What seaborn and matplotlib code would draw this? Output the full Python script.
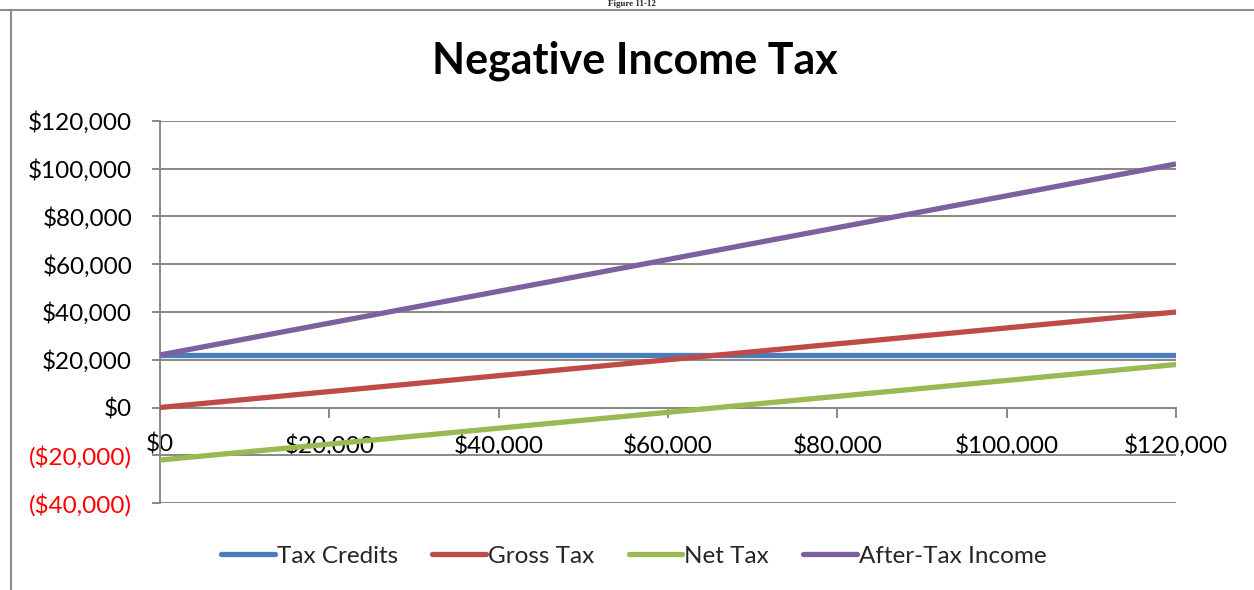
import matplotlib
matplotlib.use("Agg")
import matplotlib.pyplot as plt
from matplotlib.lines import Line2D
from matplotlib.ticker import FuncFormatter, MultipleLocator
import pandas as pd
import seaborn as sns

# Income levels and the four schedules of the negative income tax
income = [0, 20000, 40000, 60000, 80000, 100000, 120000]
tax_credits = [22000, 22000, 22000, 22000, 22000, 22000, 22000]
gross_tax = [0, 6667, 13333, 20000, 26667, 33333, 40000]
net_tax = [-22000, -15333, -8667, -2000, 4667, 11333, 18000]
after_tax_income = [22000, 35333, 48667, 62000, 75333, 88667, 102000]

series_names = ["Tax Credits", "Gross Tax", "Net Tax", "After-Tax Income"]
series_colors = ["#4A7EBB", "#BE4B48", "#98B954", "#7D60A0"]

frames = []
for name, vals in zip(series_names, [tax_credits, gross_tax, net_tax, after_tax_income]):
    frames.append(pd.DataFrame({"Income": income, "Amount": vals, "Series": name}))
df = pd.concat(frames, ignore_index=True)

sns.set_theme(style="white")
plt.rcParams["font.family"] = ["Lato", "DejaVu Sans"]

W, H = 1254, 590
fig = plt.figure(figsize=(W / 100, H / 100), dpi=100)
fig.patch.set_facecolor("white")

# plot area placed in pixel coordinates
left, right, top, bottom = 160, 1176, 121, 503
ax = fig.add_axes([left / W, 1 - bottom / H, (right - left) / W, (bottom - top) / H])

sns.lineplot(data=df, x="Income", y="Amount", hue="Series", hue_order=series_names,
             palette=series_colors, linewidth=3.8, ax=ax, legend=False,
             solid_capstyle="butt", zorder=3)

grid_c = "#888888"
ax.set_xlim(0, 120000)
ax.set_ylim(-40000, 120000)
ax.yaxis.set_major_locator(MultipleLocator(20000))
ax.xaxis.set_major_locator(MultipleLocator(20000))
ax.grid(axis="y", color=grid_c, linewidth=1.4)
ax.grid(axis="x", visible=False)
ax.set_axisbelow(True)
ax.set_xlabel("")
ax.set_ylabel("")

for s in ["top", "right"]:
    ax.spines[s].set_visible(False)
ax.spines["left"].set_color(grid_c)
ax.spines["left"].set_linewidth(1.4)
ax.spines["bottom"].set_position(("data", 0))
ax.spines["bottom"].set_color(grid_c)
ax.spines["bottom"].set_linewidth(1.4)


def money(v, pos=None):
    v = int(round(v))
    if v < 0:
        return "(${:,})".format(-v)
    return "${:,}".format(v)


ax.yaxis.set_major_formatter(FuncFormatter(money))
ax.xaxis.set_major_formatter(FuncFormatter(money))
ax.tick_params(axis="both", which="major", colors=grid_c, width=1.4, labelsize=17.5,
               labelcolor="black")
ax.tick_params(axis="y", direction="out", length=6, pad=14, left=True)
ax.tick_params(axis="x", direction="out", length=7, pad=12, bottom=True)

fig.canvas.draw()
for lbl in ax.get_yticklabels():
    if lbl.get_text().startswith("("):
        lbl.set_color("red")

# title
fig.text(635 / W, 1 - 61 / H, "Negative Income Tax", ha="center", va="center",
         fontsize=31, fontweight="bold", color="black")

# caption above the chart frame
fig.text(632 / W, 1 - 0.5 / H, "Figure 11-12", ha="center", va="top",
         fontsize=6.5, fontweight="bold", family=["Liberation Serif", "DejaVu Serif"])

# chart frame
fig.add_artist(Line2D([0, 1], [1 - 10 / H, 1 - 10 / H], transform=fig.transFigure,
                      color="#8c8c8c", linewidth=1.5))
fig.add_artist(Line2D([11 / W, 11 / W], [0, 1 - 10 / H], transform=fig.transFigure,
                      color="#8c8c8c", linewidth=1.5))

handles = [Line2D([], [], color=c, linewidth=3.8, solid_capstyle="round") for c in series_colors]
fig.legend(handles, series_names, loc="center", bbox_to_anchor=(634 / W, 1 - 556 / H),
           ncol=4, frameon=False, fontsize=17.5, handlelength=2.2, handletextpad=0.1,
           columnspacing=1.4)

fig.savefig("out.png", dpi=100, facecolor="white")
